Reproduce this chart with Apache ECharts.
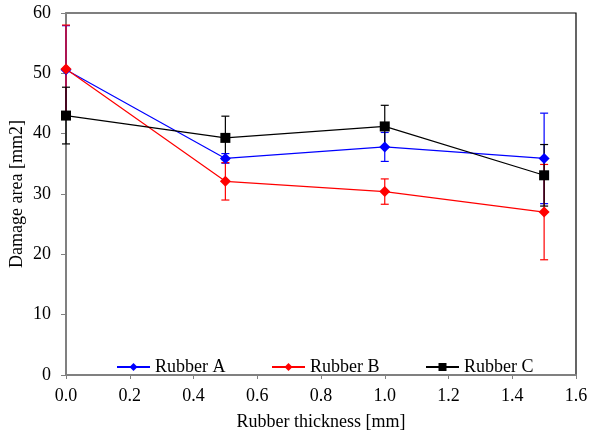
<!DOCTYPE html>
<html>
<head>
<meta charset="utf-8">
<script src="https://cdn.jsdelivr.net/npm/echarts@6/dist/echarts.min.js"></script>
<style>
  html, body { margin: 0; padding: 0; background: #fff; }
  #chart { width: 593px; height: 437px; }
</style>
</head>
<body>
<div id="chart"></div>
<script>
// Rubber thickness [mm]
var thickness = [0.0, 0.5, 1.0, 1.5];

// Mean damage area [mm2] for each rubber
var rubberA = [50.6, 35.9, 37.8, 35.9];
var rubberB = [50.7, 32.1, 30.4, 27.0];
var rubberC = [43.0, 39.3, 41.2, 33.1];

// Symmetric error (± value) for each rubber
var errA = [7.3, 0.8, 2.4, 7.5];
var errB = [7.3, 3.1, 2.1, 7.9];
var errC = [4.7, 3.6, 3.5, 5.1];

var FONT = 'Liberation Serif';
var FS = 18;

function pairs(ys) {
  return thickness.map(function (x, i) { return [x, ys[i]]; });
}

function errorData(ys, errs) {
  return thickness.map(function (x, i) { return [x, ys[i] - errs[i], ys[i] + errs[i]]; });
}

function errorSeries(name, ys, errs, color) {
  return {
    type: 'custom',
    name: name + ' error',
    z: 1,
    silent: true,
    data: errorData(ys, errs),
    renderItem: function (params, api) {
      var x = api.value(0);
      var lo = api.coord([x, api.value(1)]);
      var hi = api.coord([x, api.value(2)]);
      var half = 4;
      var style = { stroke: color, lineWidth: 1.2 };
      return {
        type: 'group',
        children: [
          { type: 'line', shape: { x1: lo[0], y1: lo[1], x2: hi[0], y2: hi[1] }, style: style },
          { type: 'line', shape: { x1: lo[0] - half, y1: lo[1], x2: lo[0] + half, y2: lo[1] }, style: style },
          { type: 'line', shape: { x1: hi[0] - half, y1: hi[1], x2: hi[0] + half, y2: hi[1] }, style: style }
        ]
      };
    }
  };
}

function lineSeries(name, ys, color, symbol, size) {
  return {
    type: 'line',
    name: name,
    z: 3,
    data: pairs(ys),
    symbol: symbol,
    symbolSize: size,
    showAllSymbol: true,
    lineStyle: { color: color, width: 1.2 },
    itemStyle: { color: color },
    emphasis: { disabled: true }
  };
}

function legendAt(name, left) {
  return {
    data: [name],
    left: left,
    top: 358,
    itemWidth: 33,
    itemHeight: 10,
    itemGap: 5,
    padding: 0,
    textStyle: { fontFamily: FONT, fontSize: FS, color: '#000' }
  };
}

var chart = echarts.init(document.getElementById('chart'), null, { renderer: 'canvas' });
chart.setOption({
  animation: false,
  backgroundColor: '#fff',
  grid: {
    left: 66, right: 17, top: 13, bottom: 62,
    outerBoundsMode: 'none',
    containLabel: false,
    show: true, borderColor: '#000', borderWidth: 1.2, backgroundColor: 'transparent'
  },
  legend: [
    legendAt('Rubber A', 116),
    legendAt('Rubber B', 271),
    legendAt('Rubber C', 425)
  ],
  xAxis: {
    type: 'value',
    min: 0, max: 1.6, interval: 0.2,
    name: 'Rubber thickness [mm]',
    nameLocation: 'middle',
    nameGap: 38,
    nameMoveOverlap: false,
    nameTextStyle: { fontFamily: FONT, fontSize: FS, color: '#000' },
    axisLine: { show: true, onZero: false, lineStyle: { color: '#808080', width: 2 } },
    axisTick: { show: true, inside: false, length: 4, lineStyle: { color: '#808080', width: 1 } },
    axisLabel: {
      fontFamily: FONT, fontSize: FS, color: '#000', margin: 12,
      formatter: function (v) { return v.toFixed(1); }
    },
    splitLine: { show: false }
  },
  yAxis: {
    type: 'value',
    min: 0, max: 60, interval: 10,
    name: 'Damage area [mm2]',
    nameLocation: 'middle',
    nameGap: 40,
    nameMoveOverlap: false,
    nameTextStyle: { fontFamily: FONT, fontSize: FS, color: '#000' },
    axisLine: { show: true, onZero: false, lineStyle: { color: '#808080', width: 2 } },
    axisTick: { show: true, inside: false, length: 5, lineStyle: { color: '#808080', width: 1 } },
    axisLabel: { fontFamily: FONT, fontSize: FS, color: '#000', margin: 15 },
    splitLine: { show: false }
  },
  series: [
    errorSeries('Rubber A', rubberA, errA, '#0000ff'),
    errorSeries('Rubber B', rubberB, errB, '#ff0000'),
    errorSeries('Rubber C', rubberC, errC, '#000000'),
    lineSeries('Rubber A', rubberA, '#0000ff', 'diamond', 11),
    lineSeries('Rubber B', rubberB, '#ff0000', 'diamond', 11),
    lineSeries('Rubber C', rubberC, '#000000', 'rect', 10)
  ]
});
</script>
</body>
</html>
